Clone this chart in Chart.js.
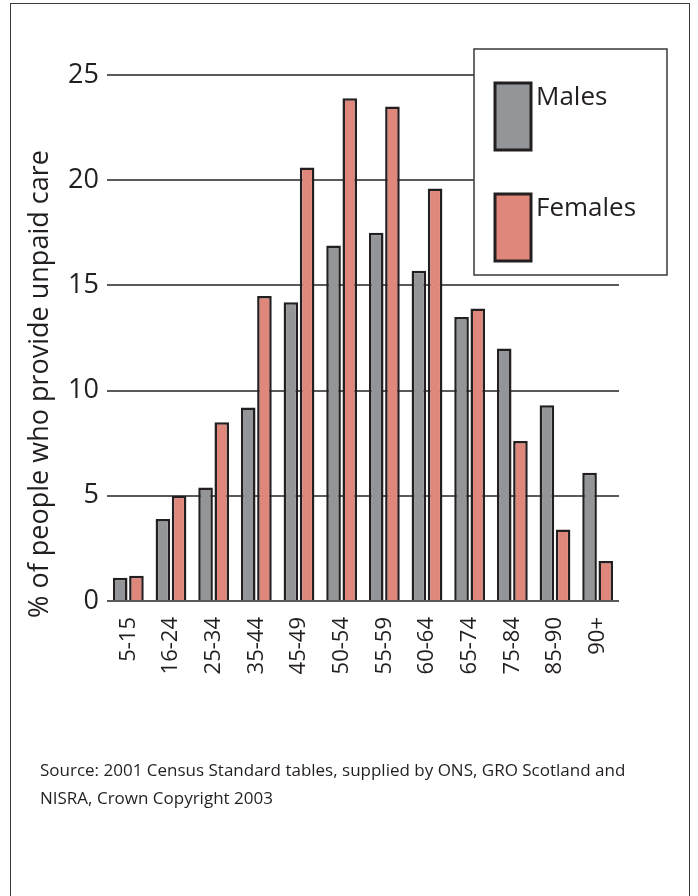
<!DOCTYPE html>
<html>
<head>
<meta charset="utf-8">
<title>Unpaid care by age and sex</title>
<script src="https://cdn.jsdelivr.net/npm/chart.js@4/dist/chart.umd.min.js"></script>
<style>
  html, body { margin: 0; padding: 0; background: #fff; }
  #page { position: relative; width: 698px; height: 896px; overflow: hidden; }
  #frame {
    position: absolute; left: 10px; top: 3px; width: 680px; height: 960px;
    border: 1.5px solid #3a3a3a; box-sizing: border-box;
  }
  #chart { position: absolute; left: 0; top: 0; }
  #source {
    position: absolute; left: 40px; top: 756px; width: 640px;
    font-family: "Open Sans", sans-serif; font-size: 17px; line-height: 28px;
    color: #231f20;
  }
</style>
</head>
<body>
<div id="page">
  <div id="frame"></div>
  <canvas id="chart" width="698" height="896"></canvas>
  <div id="source">Source: 2001 Census Standard tables, supplied by ONS, GRO Scotland and<br>NISRA, Crown Copyright 2003</div>
</div>
<script>
// Age bands and share (%) of each sex providing unpaid care
const ageGroups = ['5-15', '16-24', '25-34', '35-44', '45-49', '50-54', '55-59', '60-64', '65-74', '75-84', '85-90', '90+'];
const males = [1.1, 3.9, 5.4, 9.2, 14.2, 16.9, 17.5, 15.7, 13.5, 12.0, 9.3, 6.1];
const females = [1.2, 5.0, 8.5, 14.5, 20.6, 23.9, 23.5, 19.6, 13.9, 7.6, 3.4, 1.9];
const yTicks = [0, 5, 10, 15, 20, 25];

const INK = '#231f20';
const FONT = '"Open Sans", sans-serif';

// Rotated y-axis caption, placed a little below the axis centre
const axisCaption = {
  id: 'axisCaption',
  afterDraw(chart) {
    const ctx = chart.ctx;
    ctx.save();
    ctx.translate(40, 384);
    ctx.rotate(-Math.PI / 2);
    ctx.font = '27px ' + FONT;
    ctx.fillStyle = INK;
    ctx.textAlign = 'center';
    ctx.textBaseline = 'middle';
    ctx.fillText('% of people who provide unpaid care', 0, 0);
    ctx.restore();
  }
};

// Boxed legend with tall swatches in the top right corner
const boxLegend = {
  id: 'boxLegend',
  afterDraw(chart) {
    const ctx = chart.ctx;
    const box = { x: 474, y: 49, w: 193, h: 226 };
    ctx.save();
    ctx.fillStyle = '#fff';
    ctx.fillRect(box.x, box.y, box.w, box.h);
    ctx.strokeStyle = '#3a3a3a';
    ctx.lineWidth = 1.5;
    ctx.strokeRect(box.x, box.y, box.w, box.h);

    chart.data.datasets.forEach((ds, i) => {
      const top = 83 + i * 111;
      ctx.fillStyle = ds.backgroundColor;
      ctx.fillRect(495, top, 36, 67);
      ctx.strokeStyle = INK;
      ctx.lineWidth = 3;
      ctx.strokeRect(495, top, 36, 67);
      ctx.fillStyle = INK;
      ctx.font = '26px ' + FONT;
      ctx.textAlign = 'left';
      ctx.textBaseline = 'alphabetic';
      ctx.fillText(ds.label, 536, top + 22);
    });
    ctx.restore();
  }
};

new Chart(document.getElementById('chart'), {
  type: 'bar',
  data: {
    labels: ageGroups,
    datasets: [
      {
        label: 'Males',
        data: males,
        backgroundColor: '#939598',
        borderColor: INK,
        borderWidth: 2.5,
        barPercentage: 0.9,
        categoryPercentage: 0.76
      },
      {
        label: 'Females',
        data: females,
        backgroundColor: '#e0877b',
        borderColor: INK,
        borderWidth: 2.5,
        barPercentage: 0.9,
        categoryPercentage: 0.76
      }
    ]
  },
  options: {
    responsive: false,
    animation: false,
    layout: { padding: { left: 0, right: 79, top: 75, bottom: 214 } },
    plugins: {
      legend: { display: false },
      tooltip: { enabled: false }
    },
    scales: {
      x: {
        grid: { display: false },
        border: { display: false },
        afterFit: s => { s.height = 81; },
        ticks: {
          color: INK,
          font: { family: FONT, size: 22 },
          minRotation: 90,
          maxRotation: 90,
          padding: 8,
          autoSkip: false
        }
      },
      y: {
        min: 0,
        max: 25,
        afterFit: s => { s.width = 107; },
        afterBuildTicks: s => { s.ticks = yTicks.map(v => ({ value: v })); },
        border: { display: false },
        grid: { color: '#5a5a5a', lineWidth: 2, drawTicks: false },
        ticks: {
          color: INK,
          font: { family: FONT, size: 27 },
          padding: 8
        }
      }
    }
  },
  plugins: [axisCaption, boxLegend]
});
</script>
</body>
</html>
